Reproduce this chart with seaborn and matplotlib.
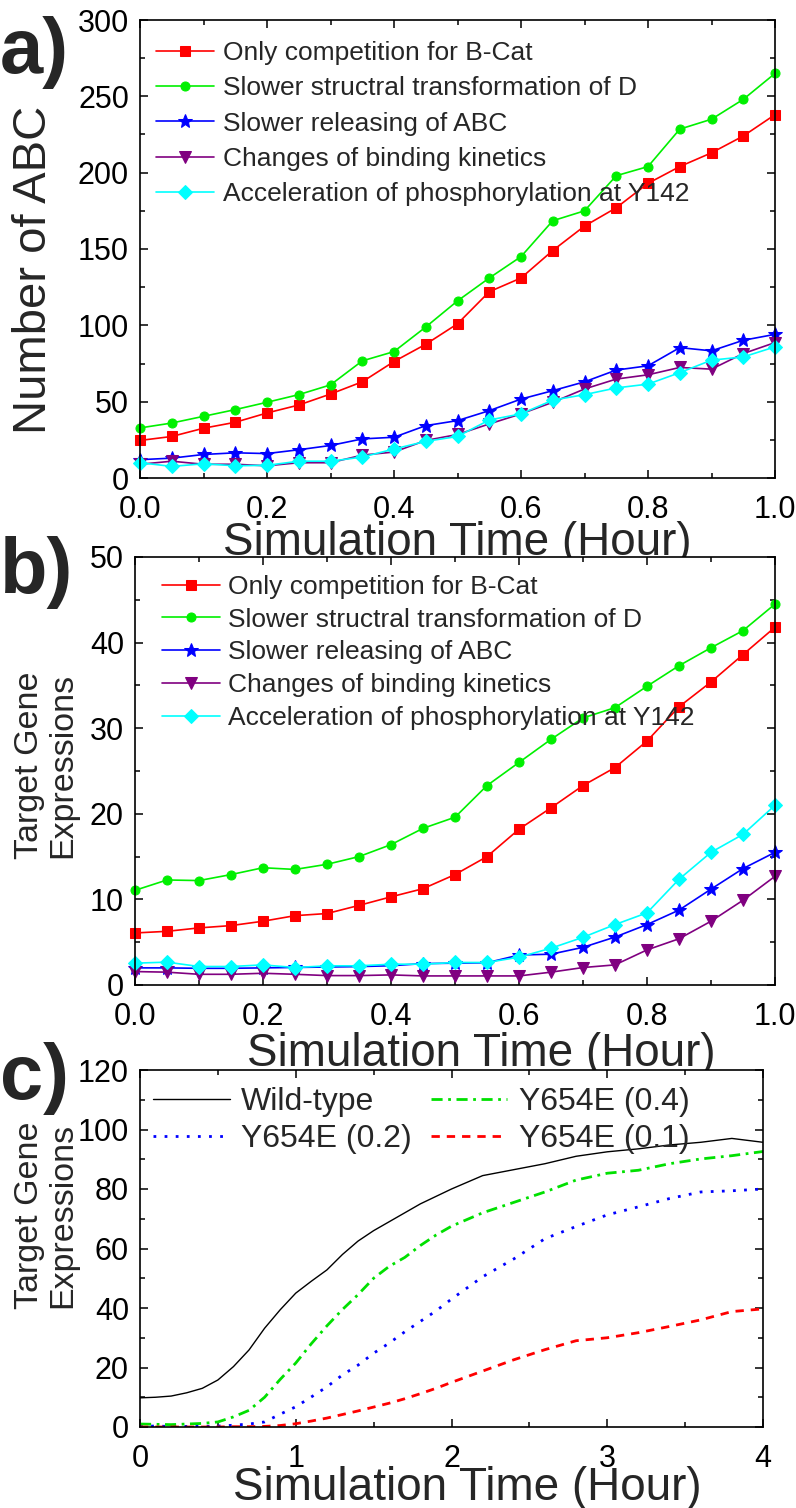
import numpy as np
import pandas as pd
import seaborn as sns
import matplotlib
matplotlib.use("Agg")
from matplotlib import pyplot as plt
from matplotlib.ticker import MultipleLocator

sns.set_style("ticks", {"axes.edgecolor": "black", "xtick.color": "black", "ytick.color": "black"})
plt.rcParams["font.family"] = ["Liberation Sans", "DejaVu Sans"]

# --- panel a / b : time points (hour)
t_ab = [0.0, 0.05, 0.1, 0.15, 0.2, 0.25, 0.3, 0.35, 0.4, 0.45, 0.5,
        0.55, 0.6, 0.65, 0.7, 0.75, 0.8, 0.85, 0.9, 0.95, 1.0]

names_ab = ["Only competition for B-Cat",
            "Slower structral transformation of D",
            "Slower releasing of ABC",
            "Changes of binding kinetics",
            "Acceleration of phosphorylation at Y142"]

# number of ABC
abc_red = [24.6, 27.2, 32.6, 36.5, 42.6, 47.8, 55, 63, 76.3, 87.6, 101,
           122, 131, 149, 165, 177, 193, 204, 213, 224, 238]
abc_green = [32.8, 36, 40.4, 44.8, 49.6, 54.6, 61, 76.7, 82.8, 98.9, 116,
             131, 145, 168.5, 175, 198, 204, 228.5, 235, 248, 265]
abc_blue = [12, 13, 15.4, 16.5, 16, 18.5, 21.3, 25.6, 26.7, 34.3, 37.6,
            44.1, 51.7, 57.2, 63, 70.7, 73.5, 85.4, 83.3, 90.2, 94.1]
abc_purple = [9, 11, 9, 9, 8, 10, 10, 15, 17, 24.6, 28.5,
              35.4, 42, 49.6, 58.3, 64.8, 67.6, 72.4, 71.3, 81.5, 88.7]
abc_cyan = [10, 7.6, 9.3, 8, 8.3, 11, 11, 13.7, 19, 24, 27.2,
            38, 42, 51, 54.6, 59, 61.5, 69, 77.2, 79.3, 85.9]

# target gene expressions
gene_red = [6.08, 6.27, 6.67, 6.94, 7.45, 8.1, 8.35, 9.3, 10.3, 11.25, 12.9,
            15.0, 18.2, 20.7, 23.3, 25.4, 28.5, 32.5, 35.4, 38.6, 41.8]
gene_green = [11.06, 12.27, 12.2, 12.9, 13.7, 13.5, 14.1, 15.0, 16.4, 18.3, 19.6,
              23.3, 26.0, 28.7, 31.2, 32.4, 34.9, 37.3, 39.4, 41.4, 44.5]
gene_blue = [2.0, 2.0, 1.95, 1.95, 2.0, 2.05, 2.1, 2.15, 2.25, 2.5, 2.55,
             2.6, 3.5, 3.6, 4.4, 5.6, 7.06, 8.75, 11.2, 13.6, 15.5]
gene_purple = [1.57, 1.5, 1.25, 1.25, 1.37, 1.25, 1.1, 1.1, 1.18, 1.06, 1.06,
               1.06, 1.06, 1.5, 2.04, 2.35, 4.1, 5.4, 7.45, 9.9, 12.7]
gene_cyan = [2.55, 2.67, 2.16, 2.16, 2.35, 2.04, 2.24, 2.24, 2.43, 2.43, 2.63,
             2.63, 3.25, 4.3, 5.57, 7.06, 8.43, 12.35, 15.5, 17.6, 21.0]

# --- panel c (finer readings early, coarser later)
t_c = [0.0, 0.1, 0.2, 0.3, 0.4, 0.5, 0.6, 0.7, 0.8, 0.9, 1.0,
       1.1, 1.2, 1.3, 1.4, 1.5, 1.6, 1.7, 1.8, 1.9, 2.0,
       2.2, 2.4, 2.6, 2.8, 3.0, 3.2, 3.4, 3.6, 3.8, 4.0]
names_c = ["Wild-type", "Y654E (0.2)", "Y654E (0.4)", "Y654E (0.1)"]
wild = [9.8, 10.0, 10.4, 11.5, 13, 15.8, 20.3, 25.9, 33.2, 39.4, 45,
        49, 52.8, 58, 62.5, 66, 69, 72, 75, 77.5, 80,
        84.5, 86.5, 88.5, 91, 92.5, 93.5, 94.8, 95.7, 97, 95.7]
y02 = [0.3, 0.3, 0.2, 0.2, 0.2, 0.3, 0.6, 1.0, 1.7, 4.3, 6.8,
       10.1, 13.5, 17.5, 20.8, 24.8, 28.2, 32, 35.5, 39, 43,
       50.5, 56.5, 63.3, 67.4, 71.3, 74, 76.8, 79, 79.4, 80]
y04 = [1.0, 0.9, 0.8, 1.0, 1.2, 1.7, 3.4, 5.6, 10, 16, 21.5,
       28, 34, 39.5, 44.5, 50, 54, 57, 61, 64.5, 67.5,
       72, 75.5, 79, 83, 85.3, 86.3, 88.5, 90.1, 91.2, 92.6]
y01 = [0.0, 0.0, 0.0, 0.0, 0.0, 0.0, 0.1, 0.1, 0.2, 0.5, 1.1,
       2.0, 3.0, 4.2, 5.4, 6.7, 8, 9.5, 11.2, 13, 15,
       18.8, 22.6, 26, 29, 30, 31.7, 33.8, 36, 38.8, 39.7]

colors_ab = ["#FF0000", "#00F000", "#0000FF", "#800080", "#00FFFF"]
markers_ab = ["s", "o", "*", "v", "D"]
msize_ab = [6.5, 6.5, 10, 8, 7]

W, H = 796, 1508
fig = plt.figure(figsize=(W / 100, H / 100), dpi=100)


def box(l, t, r, b):
    return [l / W, 1 - b / H, (r - l) / W, (b - t) / H]


ax_a = fig.add_axes(box(140, 20, 775, 478))
ax_b = fig.add_axes(box(135, 557, 775, 985))
ax_c = fig.add_axes(box(140, 1070, 763, 1427))

for ax, series in [(ax_a, [abc_red, abc_green, abc_blue, abc_purple, abc_cyan]),
                   (ax_b, [gene_red, gene_green, gene_blue, gene_purple, gene_cyan])]:
    for vals, name, col, mk, ms in zip(series, names_ab, colors_ab, markers_ab, msize_ab):
        df = pd.DataFrame({"t": t_ab, "v": vals})
        sns.lineplot(data=df, x="t", y="v", ax=ax, color=col, marker=mk,
                     markersize=ms, markeredgecolor=col, linewidth=1.2,
                     label=name, clip_on=False)

df_c = pd.DataFrame({"t": t_c * 4,
                     "v": wild + y02 + y04 + y01,
                     "run": sum([[n] * len(t_c) for n in names_c], [])})
styles_c = {"Wild-type": ("black", "-", 1.0),
            "Y654E (0.2)": ("#0000FF", (0, (1, 3)), 2.0),
            "Y654E (0.4)": ("#00E000", (0, (4, 2, 1, 2)), 2.0),
            "Y654E (0.1)": ("#FF0000", (0, (3, 2.5)), 2.0)}
for name in names_c:
    col, ls, lw = styles_c[name]
    sns.lineplot(data=df_c[df_c["run"] == name], x="t", y="v", ax=ax_c,
                 color=col, linestyle=ls, linewidth=lw, label=name)

# axes formatting
for ax in [ax_a, ax_b, ax_c]:
    ax.tick_params(which="both", direction="in", top=True, right=True,
                   labelsize=22, width=1.1, colors="black")
    ax.tick_params(axis="y", pad=8)
    ax.tick_params(axis="x", pad=12)
    ax.tick_params(which="major", length=6)
    ax.tick_params(which="minor", length=3.5)
    for s in ax.spines.values():
        s.set_linewidth(1.2)
        s.set_color("black")

ax_a.set_xlim(0, 1)
ax_a.set_ylim(0, 300)
ax_a.xaxis.set_major_locator(MultipleLocator(0.2))
ax_a.xaxis.set_minor_locator(MultipleLocator(0.1))
ax_a.yaxis.set_major_locator(MultipleLocator(50))
ax_a.yaxis.set_minor_locator(MultipleLocator(25))

ax_b.set_xlim(0, 1)
ax_b.set_ylim(0, 50)
ax_b.xaxis.set_major_locator(MultipleLocator(0.2))
ax_b.xaxis.set_minor_locator(MultipleLocator(0.1))
ax_b.yaxis.set_major_locator(MultipleLocator(10))
ax_b.yaxis.set_minor_locator(MultipleLocator(5))

ax_c.set_xlim(0, 4)
ax_c.set_ylim(0, 120)
ax_c.xaxis.set_major_locator(MultipleLocator(1))
ax_c.xaxis.set_minor_locator(MultipleLocator(0.5))
ax_c.yaxis.set_major_locator(MultipleLocator(20))
ax_c.yaxis.set_minor_locator(MultipleLocator(10))

# axis labels
ax_a.set_xlabel("Simulation Time (Hour)", fontsize=33, va="baseline")
ax_a.xaxis.set_label_coords(0.5, (478 - 555) / 458)
ax_a.set_ylabel("Number of ABC", fontsize=34, va="center")
ax_a.yaxis.set_label_coords((34 - 140) / 635, (478 - 270) / 458)

ax_b.set_xlabel("Simulation Time (Hour)", fontsize=33, va="baseline")
ax_b.xaxis.set_label_coords((481 - 135) / 640, (985 - 1066) / 428)
ax_b.set_ylabel("Target Gene\nExpressions", fontsize=24.5, va="center", linespacing=1.1)
ax_b.yaxis.set_label_coords((46 - 135) / 640, (985 - 765) / 428)

ax_c.set_xlabel("Simulation Time (Hour)", fontsize=33, va="baseline")
ax_c.xaxis.set_label_coords((467 - 140) / 623, (1427 - 1500) / 357)
ax_c.set_ylabel("Target Gene\nExpressions", fontsize=24.5, va="center", linespacing=1.1)
ax_c.yaxis.set_label_coords((46 - 140) / 623, (1427 - 1215) / 357)

# legends
ax_a.legend(loc="upper left", bbox_to_anchor=(16 / 635, 1 - 21 / 458), frameon=False,
            fontsize=19, borderpad=0, borderaxespad=0, handlelength=2.2,
            handletextpad=0.35, labelspacing=0.43)
ax_b.legend(loc="upper left", bbox_to_anchor=(27 / 640, 1 - 18 / 428), frameon=False,
            fontsize=19, borderpad=0, borderaxespad=0, handlelength=2.2,
            handletextpad=0.3, labelspacing=0.33)
ax_c.legend(loc="upper left", bbox_to_anchor=(13 / 623, 1 - 17 / 357), frameon=False,
            fontsize=23, borderpad=0, borderaxespad=0, handlelength=2.4,
            handletextpad=0.35, labelspacing=0.23, ncol=2, columnspacing=0.6)

# panel letters
fig.text(0.0, 1 - 73 / H, "a)", fontsize=56, fontweight="bold", va="baseline")
fig.text(0.0, 1 - 593 / H, "b)", fontsize=56, fontweight="bold", va="baseline")
fig.text(0.0, 1 - 1099 / H, "c)", fontsize=56, fontweight="bold", va="baseline")

fig.savefig("out.png", dpi=100)
